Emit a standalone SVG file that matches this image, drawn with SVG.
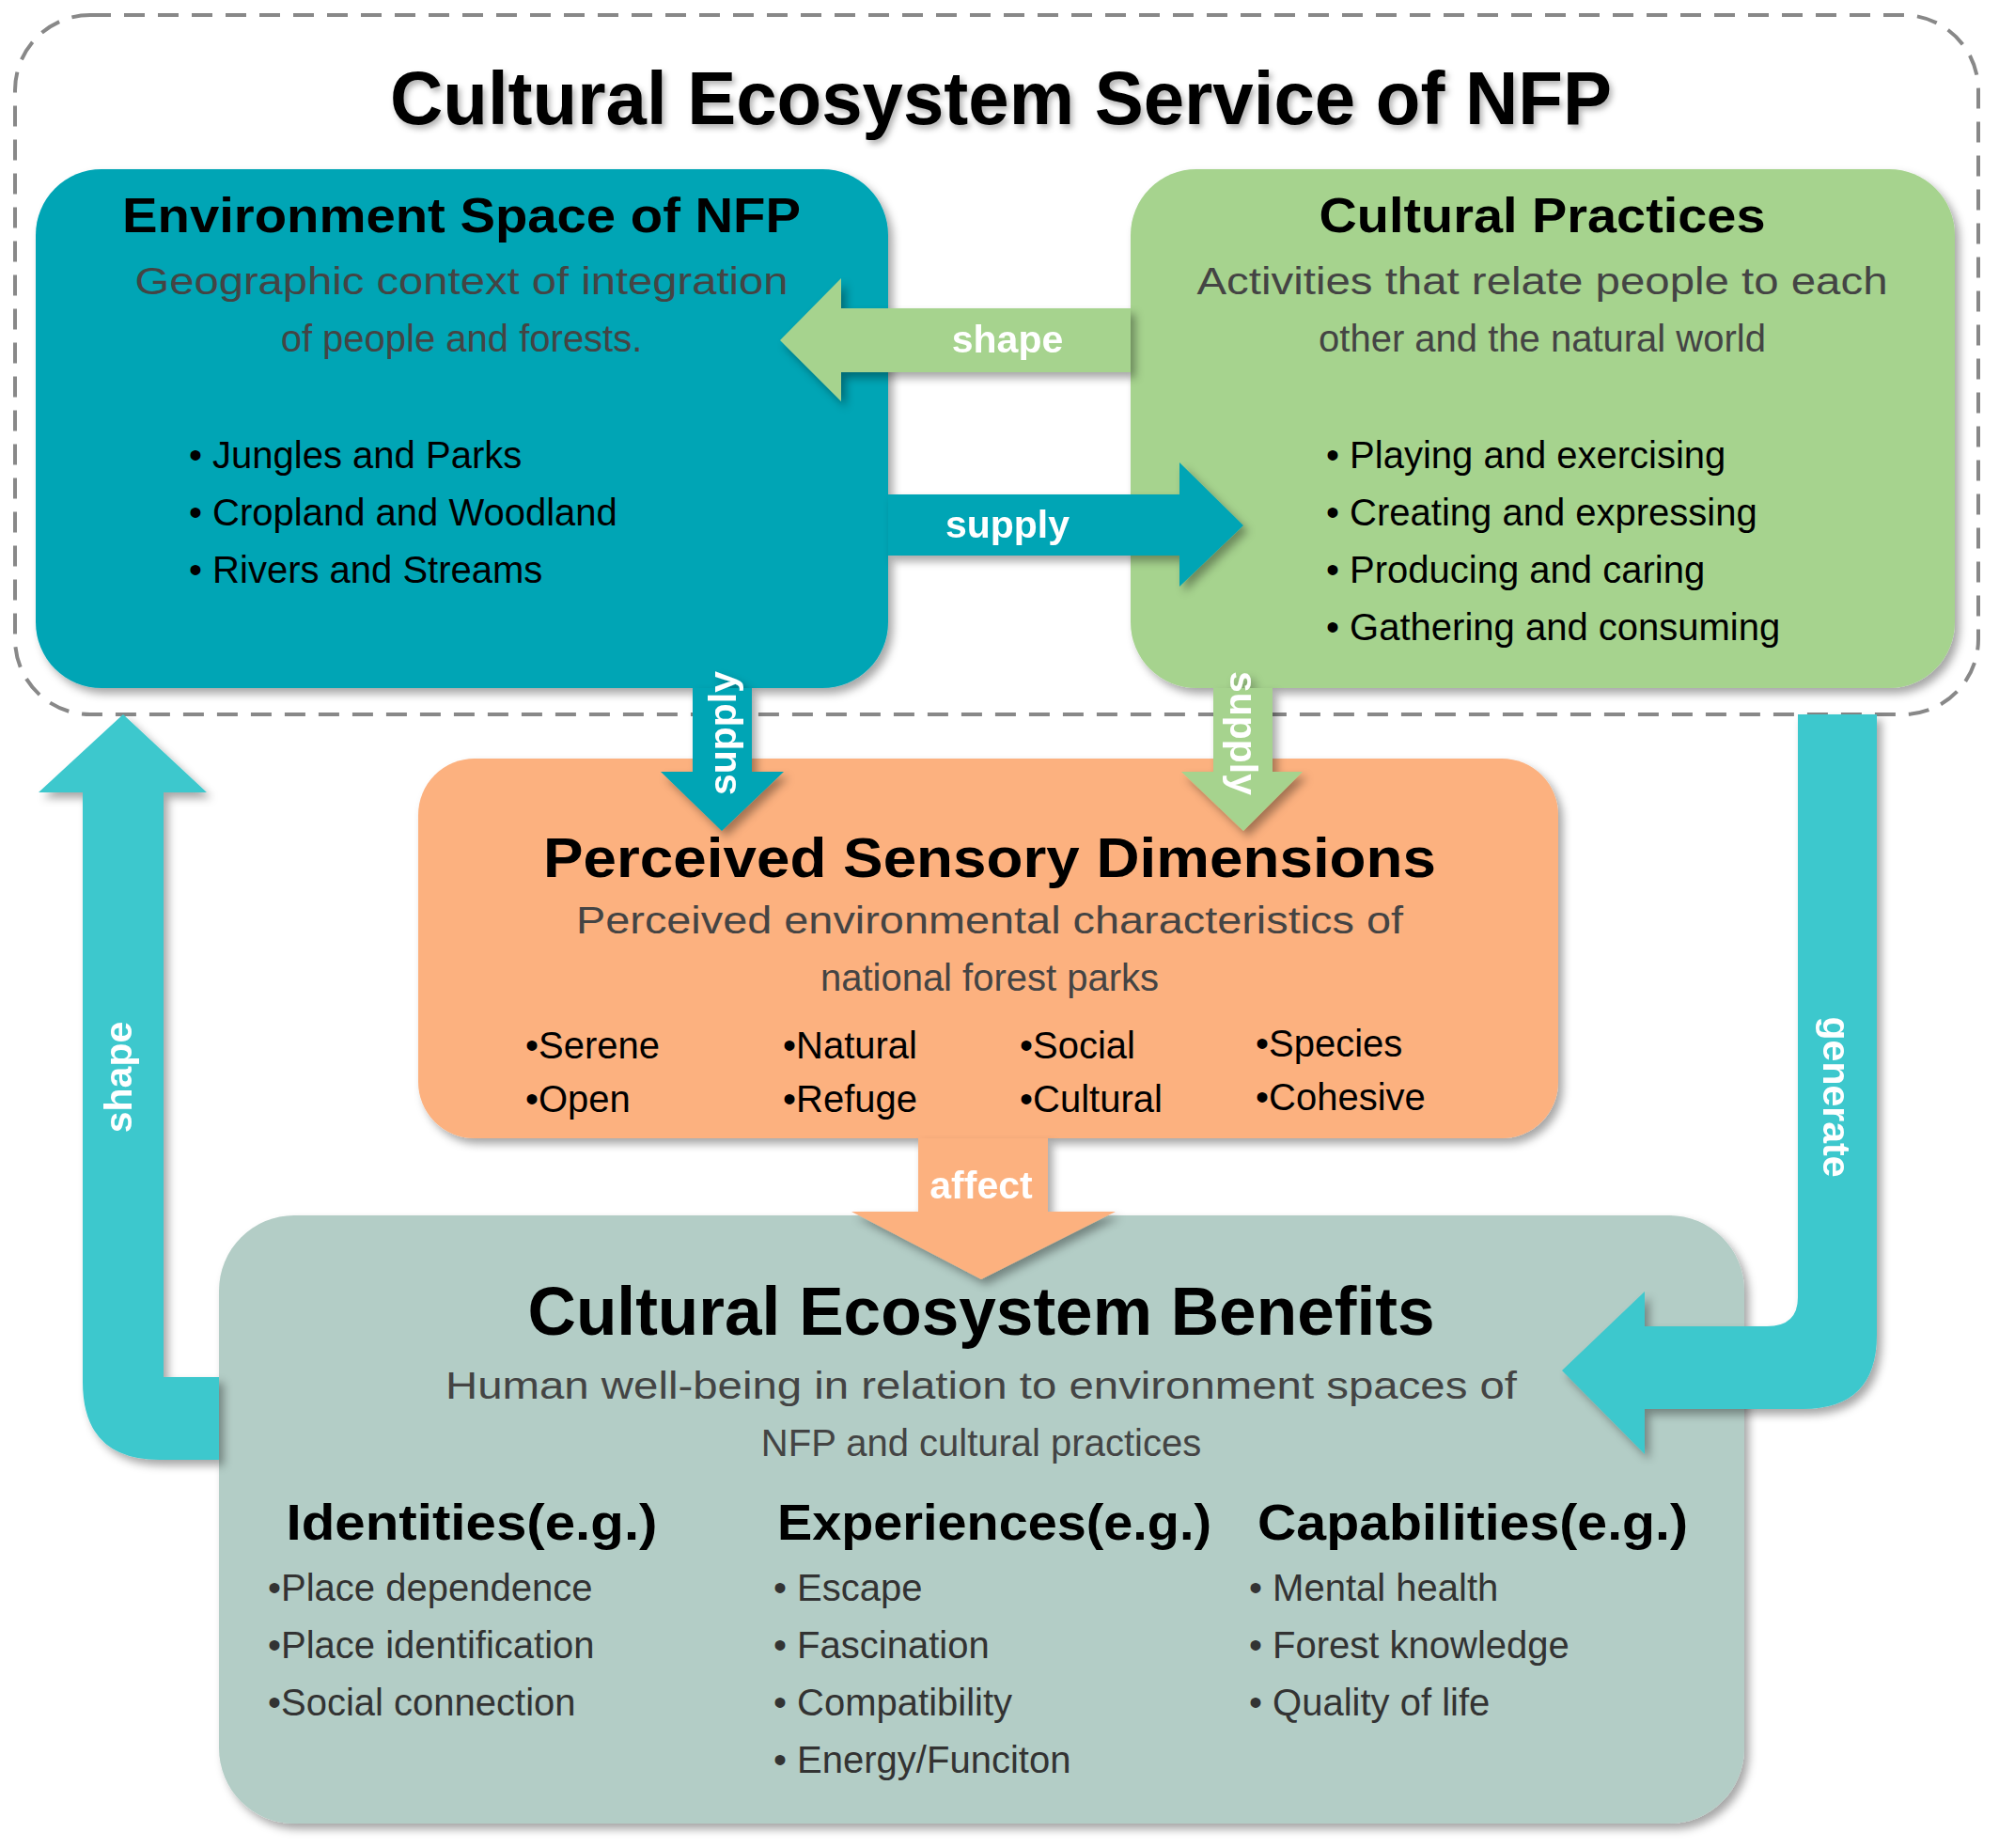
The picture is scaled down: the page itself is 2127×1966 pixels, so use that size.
<svg xmlns="http://www.w3.org/2000/svg" width="2127" height="1966" viewBox="0 0 2127 1966">
<defs>
<filter id="sh" x="-10%" y="-10%" width="125%" height="125%"><feDropShadow dx="5" dy="6" stdDeviation="5" flood-color="#000" flood-opacity="0.35"/></filter>
<filter id="tsh" x="-5%" y="-20%" width="110%" height="150%"><feDropShadow dx="3" dy="4" stdDeviation="3" flood-color="#000" flood-opacity="0.3"/></filter>
<style>
text{font-family:"Liberation Sans","Open Sans",sans-serif}
.h{font-weight:bold;fill:#000;text-anchor:middle}
.s{font-size:40px;fill:#444;text-anchor:middle}
.b{font-size:40px;fill:#000}
.bd{font-size:40px;fill:#333}
.lab{font-size:41px;font-weight:bold;fill:#fff;text-anchor:middle}
</style>
</defs>
<rect x="0" y="0" width="2127" height="1966" fill="#fff"/>
<rect x="16" y="16" width="2089" height="744" rx="80" fill="none" stroke="#888" stroke-width="4" stroke-dasharray="22 14"/>
<text x="1065" y="132" class="h" font-size="80" textLength="1300" lengthAdjust="spacingAndGlyphs" filter="url(#tsh)">Cultural Ecosystem Service of NFP</text>

<g id="env">
<rect x="38" y="180" width="907" height="552" rx="70" fill="#04a5b5" filter="url(#sh)"/>
<text x="491" y="247" class="h" font-size="52" textLength="722" lengthAdjust="spacingAndGlyphs">Environment Space of NFP</text>
<text x="491" y="313" class="s" textLength="695" lengthAdjust="spacingAndGlyphs">Geographic context of integration</text>
<text x="491" y="374" class="s">of people and forests.</text>
<text x="201" y="498" class="b">• Jungles and Parks</text>
<text x="201" y="559" class="b">• Cropland and Woodland</text>
<text x="201" y="620" class="b">• Rivers and Streams</text>
</g>

<g id="cp">
<rect x="1203" y="180" width="877" height="552" rx="70" fill="#a6d38e" filter="url(#sh)"/>
<text x="1641" y="247" class="h" font-size="52" textLength="475" lengthAdjust="spacingAndGlyphs">Cultural Practices</text>
<text x="1641" y="313" class="s" textLength="735" lengthAdjust="spacingAndGlyphs">Activities that relate people to each</text>
<text x="1641" y="374" class="s">other and the natural world</text>
<text x="1411" y="498" class="b">• Playing and exercising</text>
<text x="1411" y="559" class="b">• Creating and expressing</text>
<text x="1411" y="620" class="b">• Producing and caring</text>
<text x="1411" y="681" class="b">• Gathering and consuming</text>
</g>

<g id="psd">
<rect x="445" y="807" width="1213" height="404" rx="60" fill="#fcb17f" filter="url(#sh)"/>
<text x="1053" y="933" class="h" font-size="60" textLength="950" lengthAdjust="spacingAndGlyphs">Perceived Sensory Dimensions</text>
<text x="1053" y="993" class="s" textLength="880" lengthAdjust="spacingAndGlyphs">Perceived environmental characteristics of</text>
<text x="1053" y="1054" class="s">national forest parks</text>
<text x="559" y="1126" class="b">•Serene</text><text x="559" y="1183" class="b">•Open</text>
<text x="833" y="1126" class="b">•Natural</text><text x="833" y="1183" class="b">•Refuge</text>
<text x="1085" y="1126" class="b">•Social</text><text x="1085" y="1183" class="b">•Cultural</text>
<text x="1336" y="1124" class="b">•Species</text><text x="1336" y="1181" class="b">•Cohesive</text>
</g>

<g id="ceb">
<rect x="233" y="1293" width="1623" height="647" rx="80" fill="#b3cdc6" filter="url(#sh)"/>
<text x="1044" y="1420" class="h" font-size="72" textLength="965" lengthAdjust="spacingAndGlyphs">Cultural Ecosystem Benefits</text>
<text x="1044" y="1488" class="s" textLength="1140" lengthAdjust="spacingAndGlyphs">Human well-being in relation to environment spaces of</text>
<text x="1044" y="1549" class="s">NFP and cultural practices</text>
<text x="502" y="1638" class="h" font-size="54" textLength="395" lengthAdjust="spacingAndGlyphs">Identities(e.g.)</text>
<text x="1058" y="1638" class="h" font-size="54" textLength="462" lengthAdjust="spacingAndGlyphs">Experiences(e.g.)</text>
<text x="1567" y="1638" class="h" font-size="54" textLength="458" lengthAdjust="spacingAndGlyphs">Capabilities(e.g.)</text>
<text x="285" y="1703" class="bd">•Place dependence</text>
<text x="285" y="1764" class="bd">•Place identification</text>
<text x="285" y="1825" class="bd">•Social connection</text>
<text x="823" y="1703" class="bd">• Escape</text>
<text x="823" y="1764" class="bd">• Fascination</text>
<text x="823" y="1825" class="bd">• Compatibility</text>
<text x="823" y="1886" class="bd">• Energy/Funciton</text>
<text x="1329" y="1703" class="bd">• Mental health</text>
<text x="1329" y="1764" class="bd">• Forest knowledge</text>
<text x="1329" y="1825" class="bd">• Quality of life</text>
</g>

<g id="connectors" filter="url(#sh)">
<path d="M1203 328 L895 328 L895 296 L830 362 L895 427 L895 396 L1203 396 Z" fill="#a6d38e"/>
<text x="1072" y="375" class="lab">shape</text>
<path d="M945 526 L1255 526 L1255 492 L1323 559 L1255 624 L1255 591 L945 591 Z" fill="#04a5b5"/>
<text x="1072" y="572" class="lab">supply</text>
<path d="M737 732 L800 732 L800 821 L834 821 L768 884 L703 821 L737 821 Z" fill="#04a5b5"/>
<text transform="translate(783 780) rotate(-90)" class="lab">supply</text>
<path d="M1291 732 L1354 732 L1354 821 L1386 821 L1323 884 L1257 821 L1291 821 Z" fill="#a6d38e"/>
<text transform="translate(1309 780) rotate(90)" class="lab">supply</text>
<path d="M977 1211 L1115 1211 L1115 1289 L1187 1289 L1044 1361 L906 1289 L977 1289 Z" fill="#fcb17f"/>
<text x="1044" y="1275" class="lab">affect</text>
<path d="M233 1553 L170 1553 Q88 1553 88 1470 L88 843 L41 843 L131 760 L220 843 L174 843 L174 1465 L233 1465 Z" fill="#3cc8cd"/>
<text transform="translate(140 1146) rotate(-90)" class="lab">shape</text>
<path d="M1913 760 L1997 760 L1997 1420 Q1997 1499 1918 1499 L1750 1499 L1750 1547 L1662 1458 L1750 1374 L1750 1411 L1880 1411 Q1913 1411 1913 1380 Z" fill="#3cc8cd"/>
<text transform="translate(1940 1167) rotate(90)" class="lab">generate</text>
</g>
</svg>
